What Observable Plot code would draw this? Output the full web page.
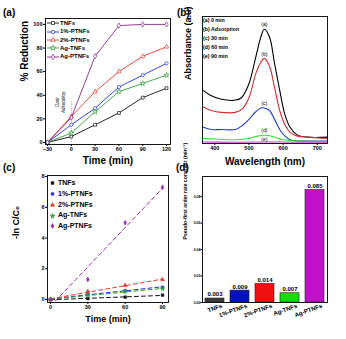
<!DOCTYPE html>
<html><head><meta charset="utf-8">
<script src="https://cdn.jsdelivr.net/npm/d3@7"></script>
<script src="https://cdn.jsdelivr.net/npm/@observablehq/plot@0.6"></script>
<style>
body{margin:0;background:#fff;}
#wrap{position:relative;width:346px;height:339px;overflow:hidden;background:#fff;font-family:"Liberation Sans",Arial,sans-serif;}
.panel{position:absolute;}
.panel svg{overflow:visible;}
.lbl{position:absolute;font-size:10px;font-weight:bold;color:#000;line-height:1;}
.leg{position:absolute;font-weight:bold;color:#000;line-height:1;white-space:nowrap;}
.leg svg{vertical-align:middle;}
</style></head>
<body><div id="wrap"></div>
<script>
// ---------- data ----------
const series = ["TNFs", "1%-PTNFs", "2%-PTNFs", "Ag-TNFs", "Ag-PTNFs"];
const symbols = ["square", "circle", "triangle", "star", "diamond"];
const colorsA = ["#111111", "#2233cc", "#e03a30", "#2e9e3a", "#8a2a8e"];
const colorsC = ["#111111", "#2233cc", "#e03a30", "#2e9e3a", "#9a30b0"];

// (a) % reduction
const timeA = [-30, 0, 30, 60, 90, 120];
const redTNFs = [0, 5, 15, 25, 38, 46];
const red1PT = [0, 15, 29, 47, 57, 67];
const red2PT = [0, 22, 43, 60, 73, 81];
const redAgT = [0, 8, 26, 43, 50, 57];
const redAgPT = [0, 21, 73, 99, 100, 100];

// (b) absorbance spectra
const wlA = [365, 387, 417, 457, 478, 500, 520, 535, 545, 560, 575, 590, 605, 620, 640, 670, 730];
const absA = [0.42, 0.38, 0.35, 0.34, 0.36, 0.47, 0.68, 0.84, 0.90, 0.84, 0.63, 0.42, 0.23, 0.13, 0.07, 0.05, 0.05];
const wlB = [365, 390, 420, 460, 480, 500, 520, 535, 545, 560, 575, 590, 605, 620, 640, 670, 730];
const absB = [0.29, 0.26, 0.245, 0.245, 0.27, 0.36, 0.55, 0.64, 0.67, 0.61, 0.44, 0.26, 0.15, 0.09, 0.06, 0.05, 0.04];
const wlC = [365, 390, 420, 460, 480, 500, 520, 535, 545, 560, 575, 590, 605, 620, 650, 730];
const absC = [0.13, 0.11, 0.11, 0.11, 0.14, 0.19, 0.25, 0.28, 0.28, 0.26, 0.19, 0.11, 0.06, 0.03, 0.02, 0.02];
const wlD = [365, 400, 460, 500, 520, 545, 570, 600, 650, 730];
const absD = [0.04, 0.035, 0.03, 0.04, 0.055, 0.065, 0.055, 0.03, 0.02, 0.015];
const wlE = [365, 450, 545, 650, 730];
const absE = [0.012, 0.01, 0.012, 0.01, 0.01];
const specNames = ["(a)", "(b)", "(c)", "(d)", "(e)"];
const specColors = ["#000000", "#d03030", "#2040c0", "#30e030", "#c040c0"];
const specLegend = ["(a) 0 min", "(b) Adsorption", "(c) 30 min", "(d) 60 min", "(e) 90 min"];
const specLabelWl = [545, 545, 545, 545, 545];
const specLabelAbs = [0.94, 0.705, 0.316, 0.105, 0.034];

// (c) -ln C/C0
const timeC = [0, 30, 60, 90];
const lnTNFs = [0, 0.05, 0.15, 0.28];
const ln1PT = [0, 0.35, 0.58, 0.8];
const ln2PT = [0, 0.52, 0.91, 1.3];
const lnAgT = [0, 0.28, 0.5, 0.7];
const lnAgPT = [0, 1.3, 5.0, 7.3];

// (d) rate constants
const rateK = [0.003, 0.009, 0.014, 0.007, 0.085];
const rateLabels = ["0.003", "0.009", "0.014", "0.007", "0.085"];
const barColors = ["#3a3a3a", "#0010c0", "#f01010", "#10dd10", "#c010c8"];

// ---------- helpers ----------
const FONT = "Liberation Sans, Arial, sans-serif";
const wrap = document.getElementById("wrap");
function place(node, left, top) {
  const d = document.createElement("div");
  d.className = "panel"; d.style.left = left + "px"; d.style.top = top + "px";
  d.appendChild(node); wrap.appendChild(d);
}
function label(text, left, top) {
  const d = document.createElement("div");
  d.className = "lbl"; d.textContent = text;
  d.style.left = left + "px"; d.style.top = top + "px"; wrap.appendChild(d);
}
const symMap = {square: d3.symbolSquare, circle: d3.symbolCircle, triangle: d3.symbolTriangle, star: d3.symbolStar, diamond: d3.symbolDiamond};
function legend(items, left, top, step, fontSize, withLine) {
  items.forEach((it, i) => {
    const d = document.createElement("div");
    d.className = "leg";
    d.style.left = left + "px"; d.style.top = (top + i * step) + "px";
    d.style.fontSize = fontSize + "px";
    const w = withLine ? 12 : 5;
    let inner = "";
    if (withLine) inner += `<line x1="0" x2="${w}" y1="3" y2="3" stroke="${it.color}" stroke-width="0.9"/>`;
    if (it.symbol) {
      const p = d3.symbol(symMap[it.symbol], withLine ? 9 : 7)();
      inner += `<path d="${p}" transform="translate(${w / 2},3)" fill="${withLine ? "#fff" : it.color}" stroke="${it.color}" stroke-width="0.7"/>`;
    }
    const sw = (withLine || it.symbol) ? `<svg width="${w}" height="6" style="margin-right:${withLine ? 1 : 3}px">${inner}</svg>` : "";
    d.innerHTML = sw + it.text;
    wrap.appendChild(d);
  });
}

// ---------- panel (a) ----------
const seriesA = [redTNFs, red1PT, red2PT, redAgT, redAgPT];
const rowsA = [];
series.forEach((s, i) => timeA.forEach((t, j) => rowsA.push({s, t, v: seriesA[i][j], sym: symbols[i]})));

const plotA = Plot.plot({
  width: 173, height: 170, marginLeft: 45, marginRight: 3, marginTop: 18, marginBottom: 26,
  style: {fontFamily: FONT, fontSize: "5.5px", fontWeight: "bold", color: "#000", background: "transparent"},
  x: {domain: [-32.5, 125], ticks: timeA, tickSize: 2, tickPadding: 1, label: null},
  y: {domain: [-1.7, 105], ticks: [0, 20, 40, 60, 80, 100], tickSize: 2, tickPadding: 1, label: null},
  color: {domain: series, range: colorsA},
  symbol: {domain: symbols, range: symbols},
  marks: [
    Plot.ruleX([0], {y1: 0, y2: 35, stroke: "#888", strokeDasharray: "1,1.2", strokeWidth: 0.8}),
    Plot.text(["Dark\nAdsorption"], {x: -14, y: 34, rotate: -90, fontSize: 4.5, fontStyle: "italic", fontWeight: "normal", lineHeight: 1.3}),
    Plot.line(rowsA, {x: "t", y: "v", z: "s", stroke: "s", strokeWidth: 0.9}),
    Plot.dot(rowsA, {x: "t", y: "v", stroke: "s", symbol: "sym", fill: "#fff", r: 1.6, strokeWidth: 0.7}),
    Plot.frame({stroke: "#000", strokeWidth: 0.9}),
    Plot.text(["% Reduction"], {frameAnchor: "left", dx: -21, rotate: -90, fontSize: 10, fontWeight: "bold"}),
    Plot.text(["Time (min)"], {frameAnchor: "bottom", dy: 19, fontSize: 10, fontWeight: "bold"})
  ]
});
place(plotA, 0, 0);
label("(a)", 3, 8);
legend(series.map((s, i) => ({text: s, color: colorsA[i], symbol: symbols[i]})), 47, 20, 8.3, 6, true);

// ---------- panel (b) ----------
const specW = [wlA, wlB, wlC, wlD, wlE];
const specV = [absA, absB, absC, absD, absE];
const rowsB = [];
specNames.forEach((n, i) => specW[i].forEach((w, j) => rowsB.push({n, w, v: specV[i][j]})));
const labB = specNames.map((n, i) => ({n, w: specLabelWl[i], v: specLabelAbs[i]}));

const plotB = Plot.plot({
  width: 173, height: 170, marginLeft: 29, marginRight: 19, marginTop: 16, marginBottom: 27,
  style: {fontFamily: FONT, fontSize: "5.5px", fontWeight: "bold", color: "#000", background: "transparent"},
  x: {domain: [364, 730], ticks: [400, 500, 600, 700], tickSize: 2, tickPadding: 1, label: null},
  y: {domain: [0, 1], axis: null},
  color: {domain: specNames, range: specColors},
  marks: [
    Plot.line(rowsB, {x: "w", y: "v", z: "n", stroke: "n", curve: "catmull-rom", strokeWidth: 1.1}),
    Plot.text(labB, {x: "w", y: "v", text: "n", fontSize: 5, fontWeight: "normal"}),
    Plot.frame({stroke: "#000", strokeWidth: 0.9}),
    Plot.text(["Absorbance (a.u)"], {frameAnchor: "left", dx: -14, rotate: -90, fontSize: 9, fontWeight: "bold"}),
    Plot.text(["Wavelength (nm)"], {frameAnchor: "bottom", dy: 21, fontSize: 10, fontWeight: "bold"})
  ]
});
place(plotB, 173, 0);
label("(b)", 177, 8);
legend(specLegend.map(t => ({text: t})), 203, 18, 9, 5.3, false);

// ---------- panel (c) ----------
const seriesC = [lnTNFs, ln1PT, ln2PT, lnAgT, lnAgPT];
const rowsC = [];
series.forEach((s, i) => timeC.forEach((t, j) => rowsC.push({s, t, v: seriesC[i][j], sym: symbols[i]})));

const plotC = Plot.plot({
  width: 173, height: 169, marginLeft: 47, marginRight: 5, marginTop: 5, marginBottom: 37,
  style: {fontFamily: FONT, fontSize: "5.5px", fontWeight: "bold", color: "#000", background: "transparent"},
  x: {domain: [-2.4, 94.8], ticks: timeC, tickSize: 2, tickPadding: 1, label: null},
  y: {domain: [-0.2, 8.07], ticks: [0, 2, 4, 6, 8], tickSize: 2, tickPadding: 1, label: null},
  color: {domain: series, range: colorsC},
  symbol: {domain: symbols, range: symbols},
  marks: [
    Plot.linearRegressionY(rowsC, {x: "t", y: "v", z: "s", stroke: "s", ci: 0, strokeDasharray: "4,3", strokeWidth: 1, clip: true}),
    Plot.dot(rowsC, {x: "t", y: "v", fill: "s", stroke: "s", symbol: "sym", r: 1.5, strokeWidth: 0.5}),
    Plot.frame({stroke: "#000", strokeWidth: 0.9}),
    Plot.text(["-ln C/C\u2080"], {frameAnchor: "left", dx: -31, rotate: -90, fontSize: 9, fontWeight: "bold"}),
    Plot.text(["Time (min)"], {frameAnchor: "bottom", dy: 19, fontSize: 9, fontWeight: "bold"})
  ]
});
place(plotC, 0, 170);
label("(c)", 3, 163);
legend(series.map((s, i) => ({text: s, color: colorsC[i], symbol: symbols[i]})), 50, 179, 10.8, 7, false);

// ---------- panel (d) ----------
const rowsD = series.map((s, i) => ({s, k: rateK[i], lab: rateLabels[i], c: barColors[i]}));
const plotD = Plot.plot({
  width: 173, height: 169, marginLeft: 29, marginRight: 19, marginTop: 6, marginBottom: 37,
  style: {fontFamily: FONT, fontSize: "3.5px", fontWeight: "bold", color: "#000", background: "transparent"},
  x: {domain: series, paddingInner: 0.24, paddingOuter: 0.12, label: null},
  y: {domain: [0, 0.0952], ticks: [0, 0.02, 0.04, 0.06, 0.08], tickFormat: d3.format(".2f"), label: null},
  marks: [
    Plot.barY(rowsD, {x: "s", y: "k", fill: "c", stroke: "#222", strokeWidth: 0.6}),
    Plot.text(rowsD, {x: "s", y: "k", text: "lab", dy: -4, fontSize: 6, fontWeight: "bold"}),
    Plot.axisY({tickSize: 1.5, tickPadding: 0.5, label: null}),
    Plot.axisX({tickRotate: -20, tickSize: 0, tickPadding: 3, dx: 7, fontSize: 6, fontWeight: "bold", label: null}),
    Plot.frame({stroke: "#000", strokeWidth: 0.9}),
    Plot.text(["Pseudo-first order rate constant (min\u207B\u00B9)"], {frameAnchor: "left", dx: -17, rotate: -90, fontSize: 5.2, fontWeight: "bold"})
  ]
});
place(plotD, 173, 170);
label("(d)", 176, 163);
</script></body></html>
